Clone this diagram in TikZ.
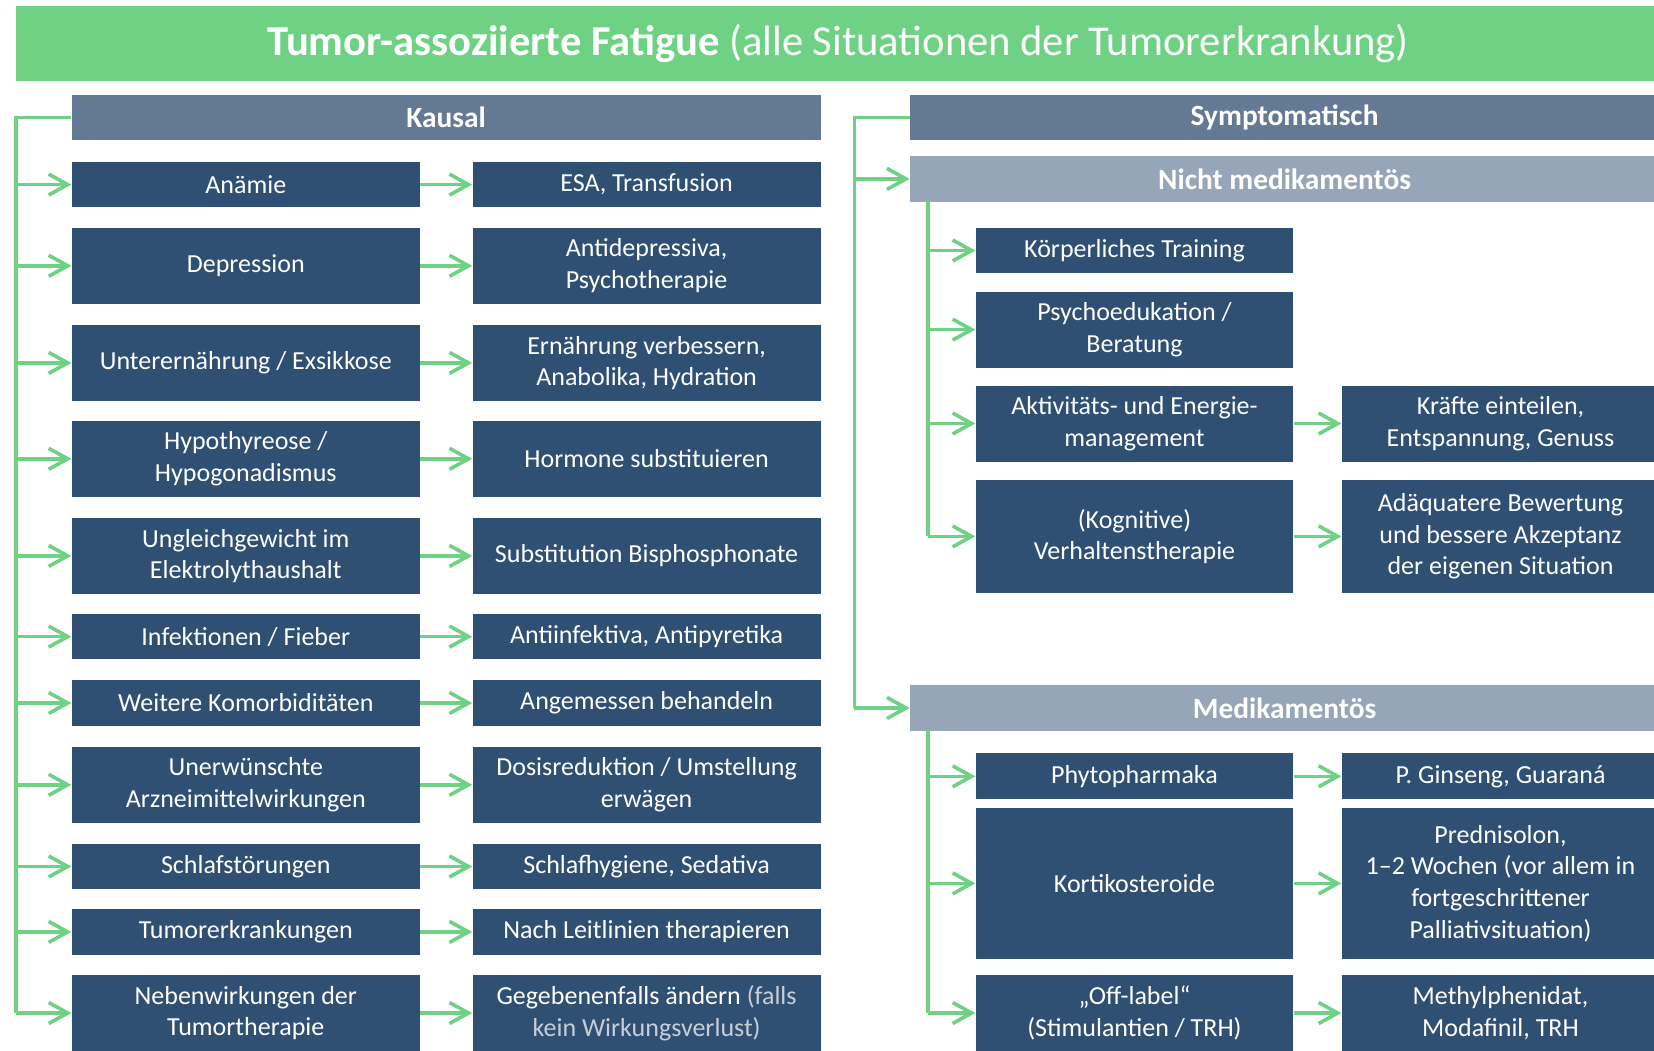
\documentclass[tikz,border=0pt]{standalone}
\usepackage{fontspec}
\setmainfont{Carlito}
\usetikzlibrary{arrows.meta}
\definecolor{fgreen}{RGB}{110,209,132}
\definecolor{fslate}{RGB}{99,121,148}
\definecolor{fgrey}{RGB}{151,165,184}
\definecolor{fnavy}{RGB}{47,79,115}
\definecolor{fpale}{RGB}{200,206,216}
\begin{document}
\begin{tikzpicture}[x=0.5pt,y=-0.5pt]
    \tikzstyle{box}=[fill=fnavy,text=white,align=center,inner sep=0pt,font=\fontsize{13}{15.8}\selectfont]
    \tikzstyle{cause}=[box,minimum width=174pt]
    \tikzstyle{cure}=[box,minimum width=158.75pt]
    \tikzstyle{head}=[box,minimum width=374.5pt,minimum height=22.7pt,font=\fontsize{14.7}{17}\selectfont\bfseries]
    \tikzstyle{link}=[draw=fgreen,line width=1.8pt]
    \tikzstyle{arr}=[link,-{Straight Barb[length=9.5pt,width=10.5pt,line width=1.8pt]}]

    \useasboundingbox (0,0) rectangle (1654,1050);

    \node[fill=fgreen,text=white,inner sep=0pt,minimum width=822pt,minimum height=37.5pt,font=\fontsize{21.3}{25}\selectfont] at (838,43.5) (title) {\textbf{Tumor-assoziierte Fatigue} (alle Situationen der Tumorerkrankung)};

    % kausal
    \node[head,fill=fslate] at (446,117.6) (kausal) {Kausal};
    \node[cause,minimum height=22.7pt] at (245.8,184.6) (c1) {Anämie};
    \node[cause,minimum height=38pt] at (245.8,265.8) (c2) {Depression};
    \node[cause,minimum height=38pt] at (245.8,362.9) (c3) {Unterernährung / Exsikkose};
    \node[cause,minimum height=38pt] at (245.8,458.8) (c4) {Hypothyreose /\\Hypogonadismus};
    \node[cause,minimum height=38pt] at (245.8,555.9) (c5) {Ungleichgewicht im\\Elektrolythaushalt};
    \node[cause,minimum height=22.7pt] at (245.8,636.6) (c6) {Infektionen / Fieber};
    \node[cause,minimum height=22.7pt] at (245.8,703) (c7) {Weitere Komorbiditäten};
    \node[cause,minimum height=38pt] at (245.8,784.8) (c8) {Unerwünschte\\Arzneimittelwirkungen};
    \node[cause,minimum height=22.7pt] at (245.8,866.5) (c9) {Schlafstörungen};
    \node[cause,minimum height=22.7pt] at (245.8,931.9) (c10) {Tumorerkrankungen};
    \node[cause,minimum height=38pt] at (245.8,1013) (c11) {Nebenwirkungen der\\Tumortherapie};

    \node[cause,minimum height=22.7pt] at (646.6,184.6) (t1) {ESA, Transfusion};
    \node[cause,minimum height=38pt] at (646.6,265.8) (t2) {Antidepressiva,\\Psychotherapie};
    \node[cause,minimum height=38pt] at (646.6,362.9) (t3) {Ernährung verbessern,\\Anabolika, Hydration};
    \node[cause,minimum height=38pt] at (646.6,458.8) (t4) {Hormone substituieren};
    \node[cause,minimum height=38pt] at (646.6,555.9) (t5) {Substitution Bisphosphonate};
    \node[cause,minimum height=22.7pt] at (646.6,636.6) (t6) {Antiinfektiva, Antipyretika};
    \node[cause,minimum height=22.7pt] at (646.6,703) (t7) {Angemessen behandeln};
    \node[cause,minimum height=38pt] at (646.6,784.8) (t8) {Dosisreduktion / Umstellung\\erwägen};
    \node[cause,minimum height=22.7pt] at (646.6,866.5) (t9) {Schlafhygiene, Sedativa};
    \node[cause,minimum height=22.7pt] at (646.6,931.9) (t10) {Nach Leitlinien therapieren};
    \node[cause,minimum height=38pt] at (646.6,1013) (t11) {Gegebenenfalls ändern {\color{fpale}(falls}\\{\color{fpale}kein Wirkungsverlust)}};

    \coordinate (lt) at (16,117.6);
    \coordinate (lb) at (16,1013);
    \draw[link] (kausal.west) -- (lt) -- (lb);
    \draw[arr] (lb |- c1) -- (c1);
    \draw[arr] (lb |- c2) -- (c2);
    \draw[arr] (lb |- c3) -- (c3);
    \draw[arr] (lb |- c4) -- (c4);
    \draw[arr] (lb |- c5) -- (c5);
    \draw[arr] (lb |- c6) -- (c6);
    \draw[arr] (lb |- c7) -- (c7);
    \draw[arr] (lb |- c8) -- (c8);
    \draw[arr] (lb |- c9) -- (c9);
    \draw[arr] (lb |- c10) -- (c10);
    \draw[arr] (lb) -- (c11);

    \draw[arr] (c1) -- (t1);
    \draw[arr] (c2) -- (t2);
    \draw[arr] (c3) -- (t3);
    \draw[arr] (c4) -- (t4);
    \draw[arr] (c5) -- (t5);
    \draw[arr] (c6) -- (t6);
    \draw[arr] (c7) -- (t7);
    \draw[arr] (c8) -- (t8);
    \draw[arr] (c9) -- (t9);
    \draw[arr] (c10) -- (t10);
    \draw[arr] (c11) -- (t11);

    % symptomatisch
    \node[head,fill=fslate] at (1284.6,117.6) (sympt) {Symptomatisch};
    \node[head,fill=fgrey] at (1284.6,178.9) (nmed) {Nicht medikamentös};
    \node[head,fill=fgrey] at (1284.6,708) (med) {Medikamentös};

    \coordinate (rt) at (854.4,117.6);
    \coordinate (rb) at (854.4,708);
    \draw[link] (sympt.west) -- (rt) -- (rb);
    \draw[arr] (rb |- nmed) -- (nmed);
    \draw[arr] (rb) -- (med);

    \node[cure,minimum height=22.7pt] at (1134.5,250.5) (n1) {Körperliches Training};
    \node[cure,minimum height=38pt] at (1134.5,329.6) (n2) {Psychoedukation /\\Beratung};
    \node[cure,minimum height=38pt] at (1134.5,423.5) (n3) {Aktivitäts- und Energie-\\management};
    \node[cure,minimum height=56.4pt] at (1134.5,536.4) (n4) {(Kognitive)\\Verhaltenstherapie};
    \node[cure,minimum height=38pt] at (1500.5,423.5) (m3) {Kräfte einteilen,\\Entspannung, Genuss};
    \node[cure,minimum height=56.4pt] at (1500.5,536.4) (m4) {Adäquatere Bewertung\\und bessere Akzeptanz\\der eigenen Situation};

    \coordinate (nt) at (928,201.5);
    \coordinate (nb) at (928,536.4);
    \draw[link] (nt) -- (nb);
    \draw[arr] (nb |- n1) -- (n1);
    \draw[arr] (nb |- n2) -- (n2);
    \draw[arr] (nb |- n3) -- (n3);
    \draw[arr] (nb) -- (n4);
    \draw[arr] (n3) -- (m3);
    \draw[arr] (n4) -- (m4);

    \node[cure,minimum height=23pt] at (1134.5,776.3) (d1) {Phytopharmaka};
    \node[cure,minimum height=75.4pt] at (1134.5,883.4) (d2) {Kortikosteroide};
    \node[cure,minimum height=38pt] at (1134.5,1013) (d3) {„Off-label“\\(Stimulantien / TRH)};
    \node[cure,minimum height=23pt] at (1500.5,776.3) (p1) {P. Ginseng, Guaraná};
    \node[cure,minimum height=75.4pt] at (1500.5,883.4) (p2) {Prednisolon,\\1–2 Wochen (vor allem in\\fortgeschrittener\\Palliativsituation)};
    \node[cure,minimum height=38pt] at (1500.5,1013) (p3) {Methylphenidat,\\Modafinil, TRH};

    \coordinate (mt) at (928,730);
    \coordinate (mb) at (928,1013);
    \draw[link] (mt) -- (mb);
    \draw[arr] (mb |- d1) -- (d1);
    \draw[arr] (mb |- d2) -- (d2);
    \draw[arr] (mb) -- (d3);
    \draw[arr] (d1) -- (p1);
    \draw[arr] (d2) -- (p2);
    \draw[arr] (d3) -- (p3);
\end{tikzpicture}
\end{document}
